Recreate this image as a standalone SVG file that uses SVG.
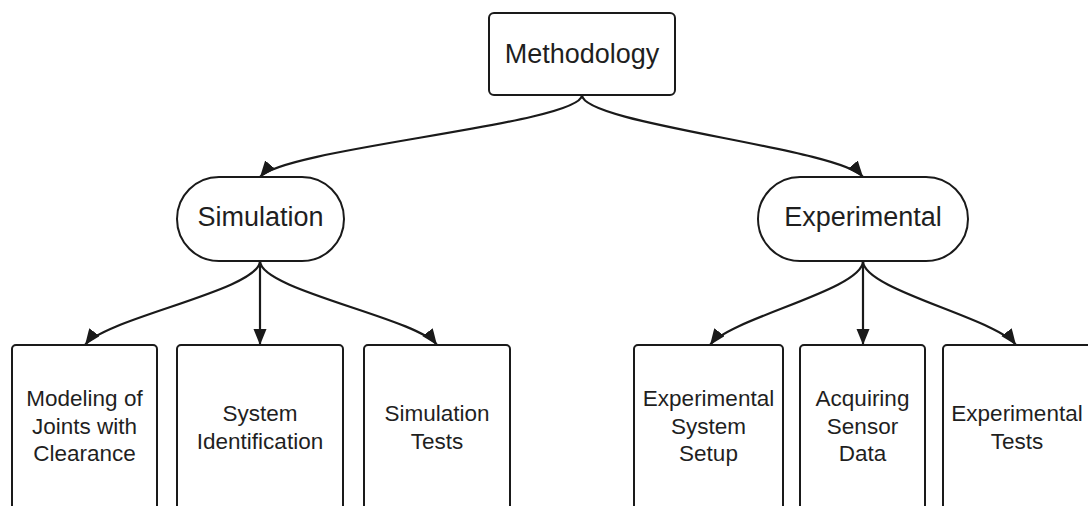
<svg xmlns="http://www.w3.org/2000/svg" width="1088" height="506" viewBox="0 0 1088 506">
  <style>
    .box { fill: #ffffff; stroke: #1a1a1a; stroke-width: 2; }
    .edge { fill: none; stroke: #1a1a1a; stroke-width: 2.2; }
    .lbl { font-family: "Liberation Sans", Arial, sans-serif; fill: #1f1f1f; text-anchor: middle; }
    .big { font-size: 27px; }
    .small { font-size: 22.5px; }
  </style>
  <defs>
    <marker id="arrow" markerUnits="userSpaceOnUse" markerWidth="17" markerHeight="14" refX="16" refY="6.5" orient="auto">
      <path d="M0,0 L16,6.5 L0,13 Z" fill="#1a1a1a"/>
    </marker>
  </defs>
  <rect width="1088" height="506" fill="#ffffff"/>

  <!-- connectors -->
  <g id="connectors">
    <path class="edge" marker-end="url(#arrow)" d="M582,95 C582,124 284,148 260,177"/>
    <path class="edge" marker-end="url(#arrow)" d="M582,95 C582,124 839,148 863,177"/>

    <path class="edge" marker-end="url(#arrow)" d="M260,261 C260,290 105,318 85,345"/>
    <path class="edge" marker-end="url(#arrow)" d="M260,261 L260,345"/>
    <path class="edge" marker-end="url(#arrow)" d="M260,261 C260,290 417,318 437,345"/>

    <path class="edge" marker-end="url(#arrow)" d="M863,261 C863,290 730,318 710,345"/>
    <path class="edge" marker-end="url(#arrow)" d="M863,261 L863,345"/>
    <path class="edge" marker-end="url(#arrow)" d="M863,261 C863,290 996,318 1016,345"/>
  </g>

  <!-- root -->
  <g id="methodology">
    <rect class="box" x="489" y="13" width="186" height="82" rx="5"/>
    <text class="lbl big" x="582" y="63">Methodology</text>
  </g>

  <!-- branches -->
  <g id="simulation">
    <rect class="box" x="177" y="177" width="167" height="84" rx="42"/>
    <text class="lbl big" x="260.5" y="226">Simulation</text>
  </g>
  <g id="experimental">
    <rect class="box" x="758" y="177" width="210" height="84" rx="42"/>
    <text class="lbl big" x="863" y="226">Experimental</text>
  </g>

  <!-- leaves -->
  <g id="modeling-joints">
    <rect class="box" x="12" y="345" width="145" height="175" rx="4"/>
    <text class="lbl small" x="84.5" y="406">Modeling of</text>
    <text class="lbl small" x="84.5" y="433.5">Joints with</text>
    <text class="lbl small" x="84.5" y="461">Clearance</text>
  </g>
  <g id="system-identification">
    <rect class="box" x="177" y="345" width="166" height="175" rx="4"/>
    <text class="lbl small" x="260" y="421">System</text>
    <text class="lbl small" x="260" y="448.5">Identification</text>
  </g>
  <g id="simulation-tests">
    <rect class="box" x="364" y="345" width="146" height="175" rx="4"/>
    <text class="lbl small" x="437" y="421">Simulation</text>
    <text class="lbl small" x="437" y="448.5">Tests</text>
  </g>
  <g id="experimental-setup">
    <rect class="box" x="634" y="345" width="149" height="175" rx="4"/>
    <text class="lbl small" x="708.5" y="406">Experimental</text>
    <text class="lbl small" x="708.5" y="433.5">System</text>
    <text class="lbl small" x="708.5" y="461">Setup</text>
  </g>
  <g id="sensor-data">
    <rect class="box" x="800" y="345" width="125" height="175" rx="4"/>
    <text class="lbl small" x="862.5" y="406">Acquiring</text>
    <text class="lbl small" x="862.5" y="433.5">Sensor</text>
    <text class="lbl small" x="862.5" y="461">Data</text>
  </g>
  <g id="experimental-tests">
    <rect class="box" x="943" y="345" width="149" height="175" rx="4"/>
    <text class="lbl small" x="1017" y="421">Experimental</text>
    <text class="lbl small" x="1017" y="448.5">Tests</text>
  </g>
</svg>
